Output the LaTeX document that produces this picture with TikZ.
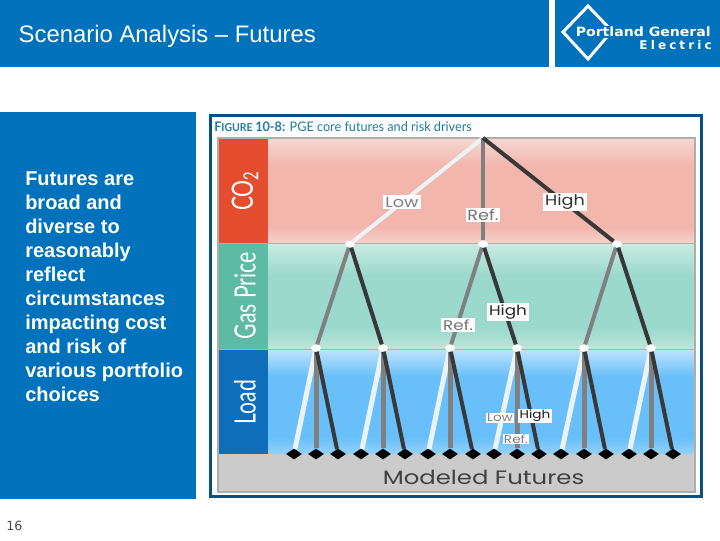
\documentclass[tikz,border=0pt]{standalone}
\usepackage{fontspec}
\setmainfont{Liberation Sans}
\newfontfamily\figfont{Lato}
\newfontfamily\widefont{Poppins}
\newfontfamily\logofont{DejaVu Sans}
\usetikzlibrary{shapes.geometric}
\definecolor{pgeblue}{RGB}{0,114,188}
\definecolor{framenavy}{RGB}{11,79,128}
\definecolor{capblue}{RGB}{30,125,165}
\definecolor{co2red}{RGB}{228,77,46}
\definecolor{gasgreen}{RGB}{93,187,165}
\definecolor{loadblue}{RGB}{15,110,185}
\definecolor{edgegray}{RGB}{176,174,170}
\definecolor{modelgray}{RGB}{203,203,203}
\definecolor{lowwhite}{RGB}{236,243,247}
\definecolor{redlow}{RGB}{246,210,204}
\definecolor{redmid}{RGB}{242,182,173}
\definecolor{redtop}{RGB}{246,216,210}
\definecolor{greenlow}{RGB}{192,230,219}
\definecolor{greenmid}{RGB}{155,217,204}
\definecolor{greentop}{RGB}{202,234,226}
\definecolor{bluelow}{RGB}{150,210,250}
\definecolor{bluemid}{RGB}{105,191,250}
\definecolor{bluetop}{RGB}{190,228,252}
\newcommand{\px}{0.75pt}
% bands are light at both ends; a path fills the middle 25bp to 75bp of these
\pgfdeclareverticalshading{bandred}{100bp}{color(0bp)=(redlow); color(25bp)=(redlow); color(33bp)=(redmid); color(62bp)=(redmid); color(75bp)=(redtop); color(100bp)=(redtop)}
\pgfdeclareverticalshading{bandgreen}{100bp}{color(0bp)=(greenlow); color(25bp)=(greenlow); color(35bp)=(greenmid); color(60bp)=(greenmid); color(75bp)=(greentop); color(100bp)=(greentop)}
\pgfdeclareverticalshading{bandblue}{100bp}{color(0bp)=(bluelow); color(25bp)=(bluelow); color(33bp)=(bluemid); color(62bp)=(bluemid); color(75bp)=(bluetop); color(100bp)=(bluetop)}

\begin{document}
\begin{tikzpicture}[
  x=\px,y=-\px,
  panel/.style={fill=pgeblue,draw=none,inner sep=0pt,minimum height=#1*\px},
  band/.style={shade,inner sep=0pt,minimum width=427*\px,minimum height=#1*\px},
  tag/.style={inner sep=0pt,minimum width=50*\px,minimum height=#1*\px,text=white},
  tagtext/.style={font=\figfont\fontsize{22pt}{24pt}\selectfont,rotate=90,xscale=.72,transform shape},
  joint/.style={ellipse,fill=white,inner sep=0pt,minimum width=10*\px,minimum height=7*\px},
  leaf/.style={diamond,fill=black,inner sep=0pt,minimum width=16*\px,minimum height=11*\px},
  lowline/.style={draw=lowwhite,line width=#1*\px},
  lowline/.default=4,
  refline/.style={draw=black!50,line width=#1*\px},
  refline/.default=4,
  highline/.style={draw=black!78,line width=4*\px},
  choice/.style={fill=white,inner sep=1.2pt,xscale=1.2,transform shape,font=\widefont\fontsize{#1}{#1}\selectfont},
  choice/.default=11pt
]
  \useasboundingbox (0,0) rectangle (720,540);
  \fill[white] (0,0) rectangle (720,540);

  % header and side panel
  \node[panel=67,minimum width=549*\px,anchor=north west] (head) at (0,0) {};
  \node[panel=67,minimum width=165*\px,anchor=north west] (logo) at (555,0) {};
  \node[panel=387,minimum width=196*\px,anchor=north west] (side) at (0,112) {};
  \node[anchor=west,text=white,font=\fontsize{17.9pt}{20pt}\selectfont] (title) at (14,36) {Scenario Analysis -- Futures};
  \node[anchor=north west,inner sep=0pt,text=white,align=left,font=\bfseries\fontsize{15pt}{18pt}\selectfont] (sidetext) at (25,171.5) {Futures are\\broad and\\diverse to\\reasonably\\reflect\\circumstances\\impacting cost\\and risk of\\various portfolio\\choices};
  \node[text=black!70,font=\logofont\fontsize{9.5pt}{10pt}\selectfont] (page) at (14.5,526) {16};

  % logo
  \draw[white,line width=3*\px] (588,6) -- (612,31) -- (588,59) -- (563,32) -- cycle;
  \node[anchor=west,inner sep=1pt,fill=pgeblue,text=white,xscale=1.1,transform shape,font=\logofont\bfseries\fontsize{9.6pt}{10pt}\selectfont] (portland) at (574,32) {Portland General};
  \node[anchor=east,inner sep=0pt,text=white,font=\logofont\bfseries\fontsize{9pt}{10pt}\selectfont\addfontfeature{LetterSpace=26}] (electric) at (712,45) {Electric};

  % figure frame
  \draw[framenavy,line width=3*\px,fill=white] (210.5,115.5) rectangle (701.5,496.5);
  \node[anchor=west,inner sep=0pt,text=capblue,xscale=.96,transform shape,font=\figfont\fontsize{9.9pt}{11pt}\selectfont] (caption) at (214,126.5) {{\bfseries F\fontsize{8.2pt}{10pt}\selectfont IGURE \fontsize{9.9pt}{11pt}\selectfont 10-8:} PGE core futures and risk drivers};

  % bands of the tree
  \node[band=105.5,shading=bandred,anchor=north west] (co2band) at (268,138) {};
  \node[band=105.5,shading=bandgreen,anchor=north west] (gasband) at (268,243.5) {};
  \node[band=105,shading=bandblue,anchor=north west] (loadband) at (268,349) {};
  \node[tag=105.5,fill=co2red,anchor=north west] (co2tag) at (218,138) {};
  \node[tag=105.5,fill=gasgreen,anchor=north west] (gastag) at (218,243.5) {};
  \node[tag=105,fill=loadblue,anchor=north west] (loadtag) at (218,349) {};
  \node[fill=modelgray,inner sep=0pt,minimum width=477*\px,minimum height=38*\px,anchor=north west] (model) at (218,454) {};
  \draw[edgegray,line width=1.5*\px] (218,138) rectangle (695,492);
  \draw[edgegray] (218,243.5) -- (695,243.5);
  \draw[edgegray] (218,349) -- (695,349);
  \node[tagtext,text=white] (co2name) at (245,191) {CO\textsubscript{2}};
  \node[tagtext,text=white] (gasname) at (245,296) {Gas Price};
  \node[tagtext,text=white] (loadname) at (245,402) {Load};

  % tree
  \coordinate (root) at (483,138);
  \foreach \n/\x in {1/350,2/483,3/617}
    \node[joint] (g\n) at (\x,244) {};
  \foreach \n/\x in {1/316,2/383,3/450,4/517,5/584,6/651}
    \node[joint] (l\n) at (\x,348) {};
  \foreach \n/\x in {1/294,2/316,3/338,4/361,5/383,6/405,7/428,8/450,9/473,10/494,11/517,12/539,13/561,14/584,15/606,16/629,17/651,18/673}
    \node[leaf] (f\n) at (\x,454) {};
  \draw[lowline] (root) -- (g1);
  \draw[refline] (root) -- (g2);
  \draw[highline] (root) -- (g3);
  \foreach \g/\a/\b in {1/1/2,2/3/4,3/5/6} {
    \draw[refline] (g\g) -- (l\a);
    \draw[highline] (g\g) -- (l\b);
  }
  \foreach \l/\a/\b/\c in {1/1/2/3,2/4/5/6,3/7/8/9,4/10/11/12,5/13/14/15,6/16/17/18} {
    \draw[lowline=5] (l\l) -- (f\a);
    \draw[refline=5] (l\l) -- (f\b);
    \draw[highline] (l\l) -- (f\c);
  }

  % labels
  \node[choice,text=black!50] (lowtop) at (402,202) {Low};
  \node[choice,text=black!55] (reftop) at (483,215) {Ref.};
  \node[choice,text=black!80] (hightop) at (565,202) {High};
  \node[choice=10.5pt,text=black!55] (refmid) at (458,325) {Ref.};
  \node[choice=10.5pt,text=black!85] (highmid) at (508,312) {High};
  \node[choice=8.5pt,inner sep=.8pt,text=black!50] (lowend) at (500,418) {Low};
  \node[choice=8.5pt,inner sep=.8pt,text=black!90] (highend) at (535,416) {High};
  \node[choice=8.5pt,inner sep=.8pt,text=black!50] (refend) at (516,439) {Ref.};
  \node[text=black!75,xscale=1.26,transform shape,font=\widefont\fontsize{14.5pt}{16pt}\selectfont] (modelname) at (483.5,477) {Modeled Futures};
\end{tikzpicture}
\end{document}
